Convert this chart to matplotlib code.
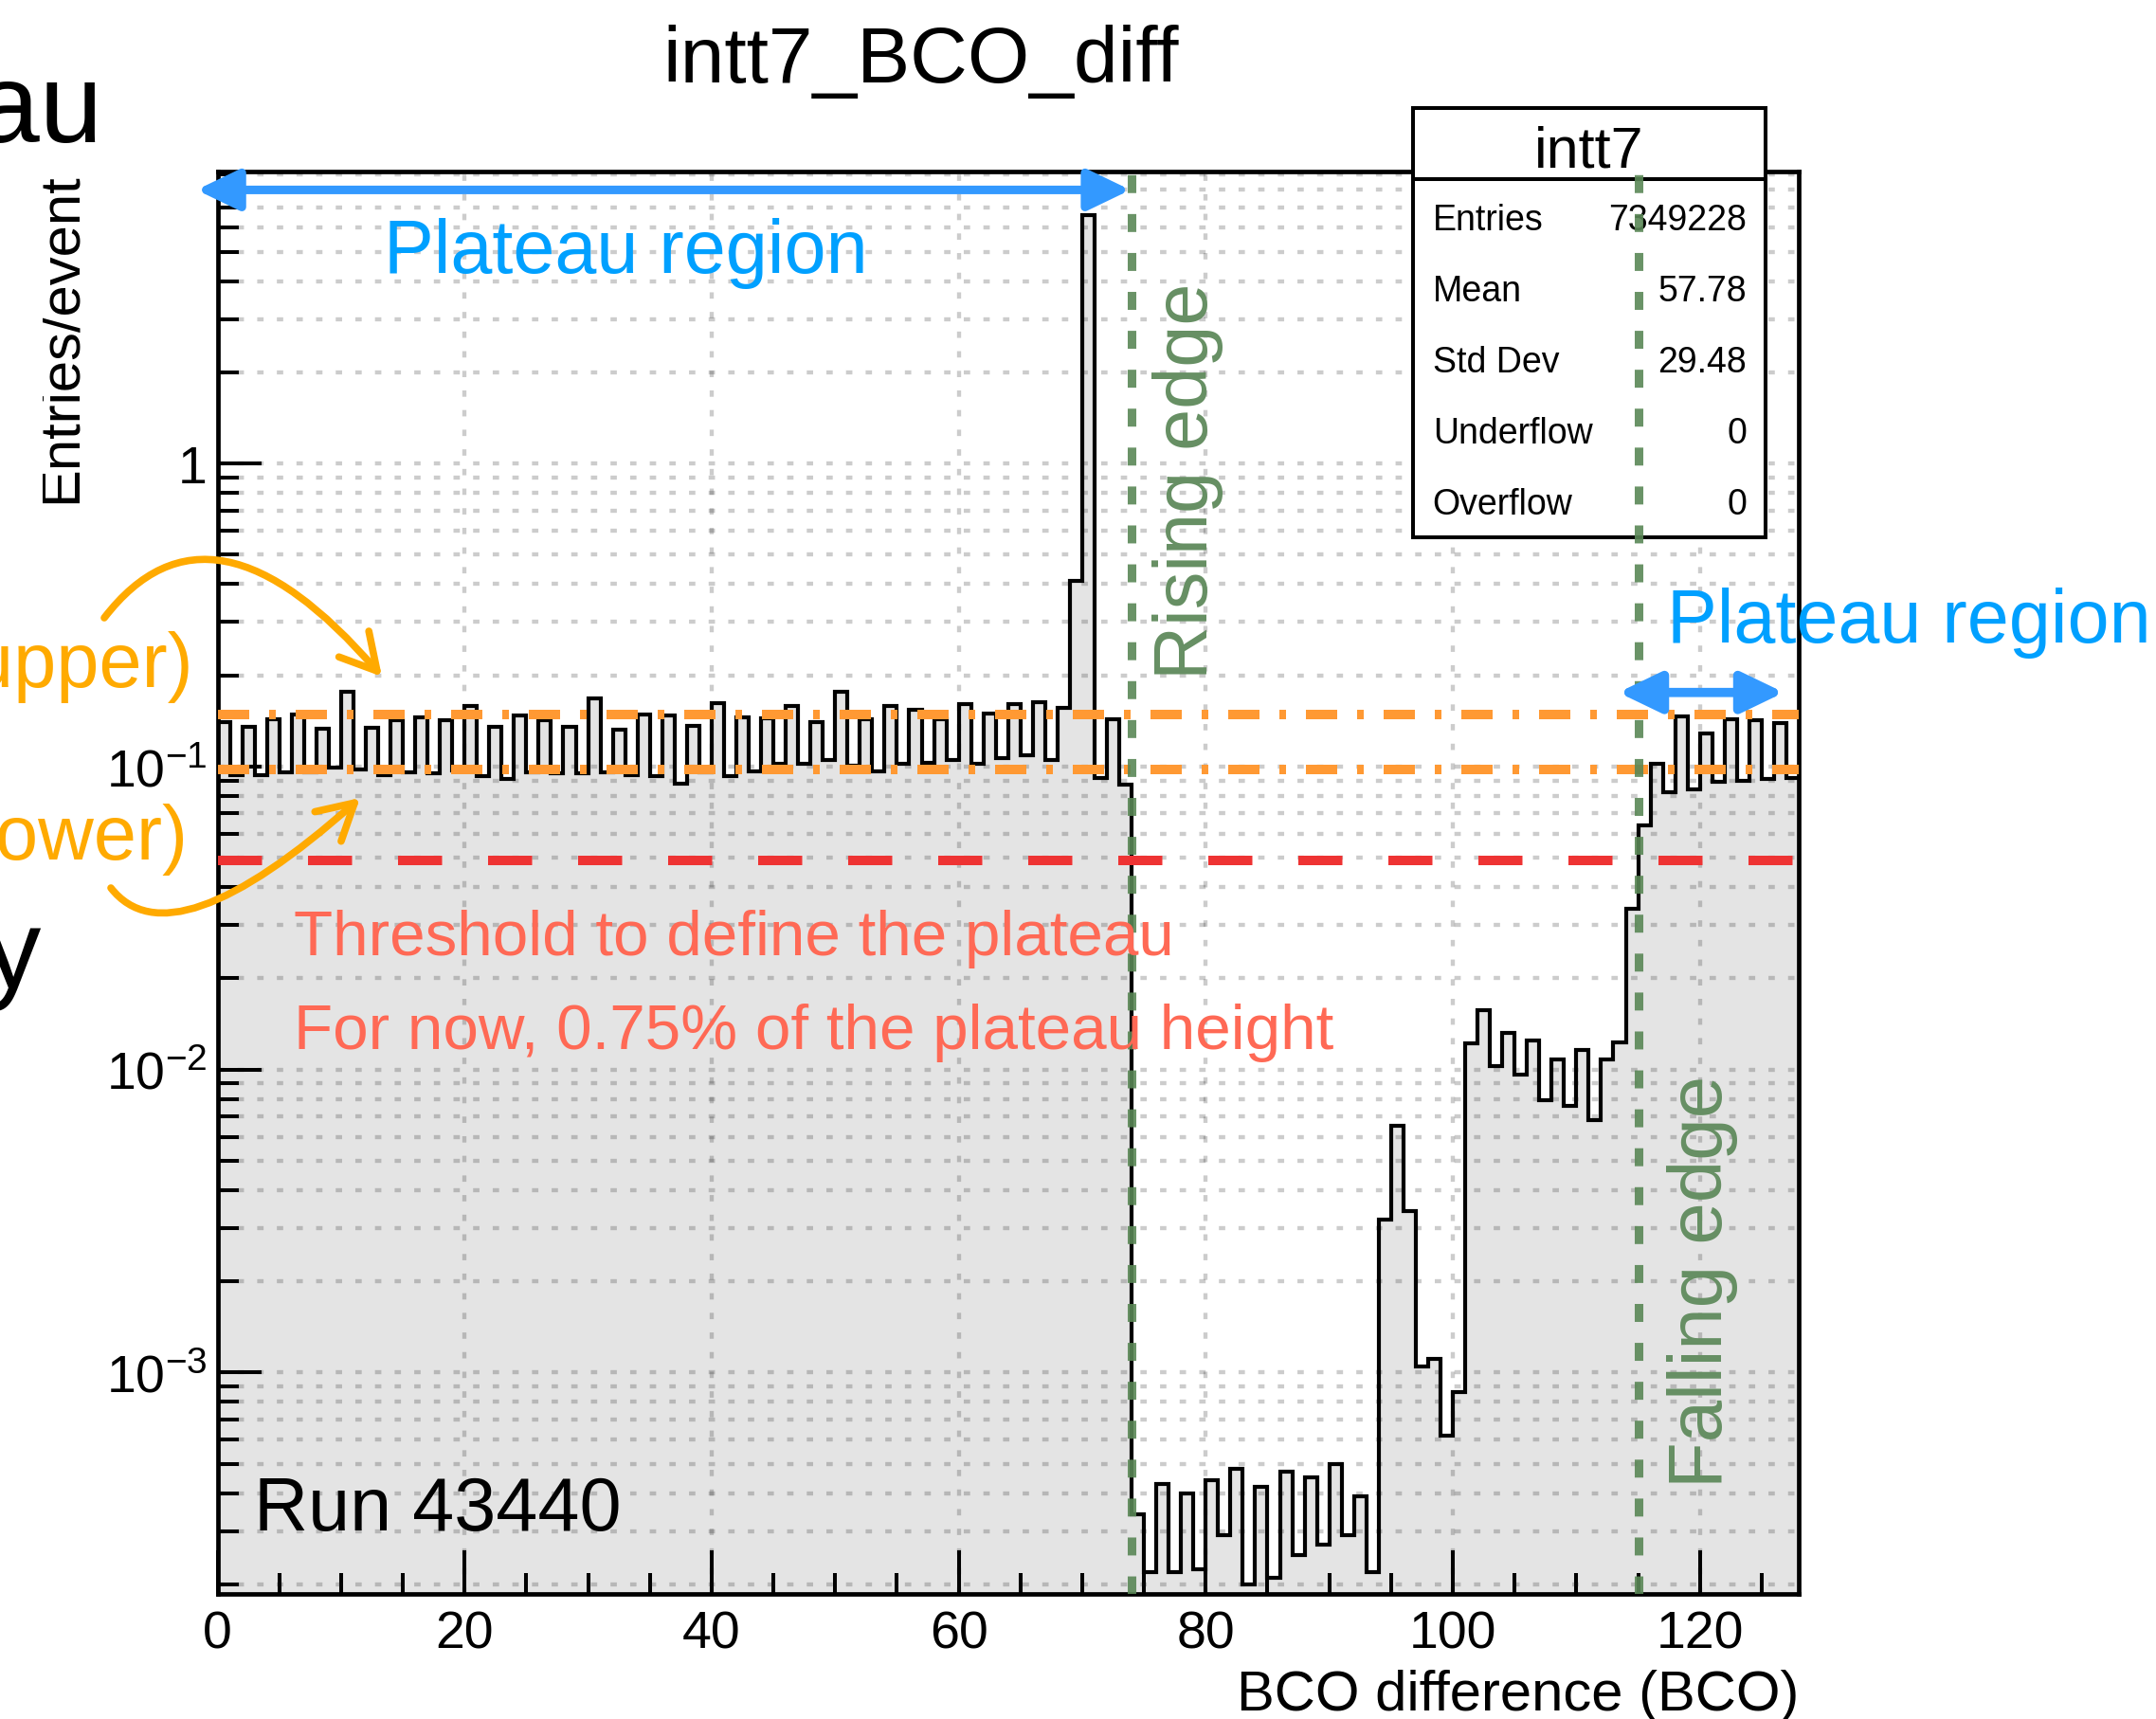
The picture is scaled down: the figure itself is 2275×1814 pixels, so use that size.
import numpy as np
import matplotlib
matplotlib.use("Agg")
import matplotlib.pyplot as plt
from matplotlib.patches import FancyArrowPatch, Rectangle, ArrowStyle
from matplotlib.path import Path
from matplotlib.lines import Line2D
from matplotlib.transforms import Affine2D
from matplotlib.ticker import FixedLocator, MultipleLocator, LogLocator, NullFormatter

plt.rcParams['font.family'] = ['Liberation Sans', 'DejaVu Sans']
plt.rcParams['mathtext.fontset'] = 'custom'
plt.rcParams['mathtext.rm'] = 'Liberation Sans'
plt.rcParams['mathtext.it'] = 'Liberation Sans:italic'
plt.rcParams['mathtext.bf'] = 'Liberation Sans:bold'

# ---------------- data ----------------
hist_name = "intt7_BCO_diff"
run_label = "Run 43440"
bin_edges = np.arange(0, 129)          # 128 bins, BCO 0..128
entries_per_event = [
    0.140, 0.094, 0.135, 0.094, 0.143, 0.096, 0.148, 0.096, 0.133, 0.099,
    0.176, 0.098, 0.134, 0.094, 0.142, 0.096, 0.145, 0.095, 0.142, 0.097,
    0.159, 0.093, 0.135, 0.091, 0.147, 0.096, 0.142, 0.095, 0.135, 0.095,
    0.168, 0.096, 0.132, 0.094, 0.148, 0.093, 0.147, 0.088, 0.136, 0.096,
    0.162, 0.093, 0.145, 0.0965, 0.144, 0.102, 0.158, 0.102, 0.140, 0.105,
    0.176, 0.101, 0.143, 0.0965, 0.158, 0.102, 0.154, 0.103, 0.143, 0.105,
    0.161, 0.102, 0.150, 0.107, 0.161, 0.109, 0.163, 0.105, 0.156, 0.41,
    6.6, 0.092, 0.143, 0.087, 3.4e-4, 2.2e-4, 4.3e-4, 2.2e-4, 4.0e-4, 2.25e-4,
    4.4e-4, 2.9e-4, 4.8e-4, 2.0e-4, 4.2e-4, 2.1e-4, 4.7e-4, 2.5e-4, 4.5e-4, 2.7e-4,
    5.0e-4, 2.9e-4, 3.9e-4, 2.2e-4, 3.2e-3, 6.5e-3, 3.4e-3, 1.05e-3, 1.11e-3, 6.2e-4,
    8.6e-4, 0.0122, 0.0157, 0.0103, 0.0132, 0.0096, 0.0125, 0.0079, 0.0108, 0.0076,
    0.0116, 0.0068, 0.0108, 0.0123, 0.034, 0.064, 0.102, 0.082, 0.146, 0.084,
    0.129, 0.089, 0.143, 0.090, 0.1425, 0.091, 0.139, 0.092,
]
plateau_upper = 0.148
plateau_lower = 0.098
threshold = 0.049
rising_edge = 74
falling_edge = 115
x_ticks = [0, 20, 40, 60, 80, 100, 120]
y_ticks = [1e-3, 1e-2, 1e-1, 1.0]
y_tick_labels = [r'$10^{-3}$', r'$10^{-2}$', r'$10^{-1}$', '1']
stats_title = "intt7"
stats_labels = ["Entries", "Mean", "Std Dev", "Underflow", "Overflow"]
stats_values = ["7349228", "57.78", "29.48", "0", "0"]
plateau_left = (-1.7, 73.9, 8.0)       # x0, x1, y of left plateau arrow
plateau_right = (113.4, 126.8, 0.1756)

# ---------------- figure ----------------
W, H = 2275, 1815
fig = plt.figure(figsize=(W / 100, H / 100), dpi=100)
fig.patch.set_facecolor('white')
pix = Affine2D().scale(1.0 / W, -1.0 / H).translate(0, 1) + fig.transFigure

L, R, T, B = 229.5, 1898, 182, 1683
ax = fig.add_axes([L / W, 1 - B / H, (R - L) / W, (B - T) / H])
ax.set_yscale('log')
ax.set_xlim(0, 128)
ax.set_ylim(1.86e-4, 9.2)
ax.set_axisbelow('line')

vals = np.array(entries_per_event)
ax.stairs(vals, bin_edges, baseline=1e-7, fill=True, color='#E4E4E4', lw=0, zorder=1)
ax.stairs(vals, bin_edges, baseline=None, color='black', lw=3.0, zorder=2)

# ticks
ax.xaxis.set_major_locator(FixedLocator(x_ticks))
ax.xaxis.set_minor_locator(MultipleLocator(5))
ax.set_yticks(y_ticks)
ax.set_yticklabels(y_tick_labels)
ax.yaxis.set_minor_locator(LogLocator(base=10, subs=np.arange(2, 10), numticks=100))
ax.yaxis.set_minor_formatter(NullFormatter())
ax.tick_params(which='both', direction='in', top=False, right=False, width=2.9,
               colors='black', labelsize=40)
ax.tick_params(which='major', length=33)
ax.tick_params(which='minor', length=16)
ax.tick_params(axis='x', pad=12)
ax.tick_params(axis='y', pad=8)
for s in ax.spines.values():
    s.set_linewidth(3.4)

# grid
gkw = dict(color='#1a1a1a', alpha=0.22, lw=3.1, linestyle=(0, (1.56, 3.25)))
ax.yaxis.grid(True, which='both', **gkw)
ax.xaxis.grid(True, which='major', **gkw)
ax.xaxis.grid(False, which='minor')

# reference lines
ax.axhline(plateau_upper, color='#FF9933', lw=7.2,
           linestyle=(0, (3.3, 2.1, 0.7, 2.1)), dash_capstyle='butt', zorder=3)
ax.axhline(plateau_lower, color='#FF9933', lw=7.2,
           linestyle=(0, (3.3, 2.1, 0.7, 2.1)), dash_capstyle='butt', zorder=3)
ax.axhline(threshold, color='#EE3333', lw=7.2,
           linestyle=(0, (4.65, 4.85)), dash_capstyle='butt', zorder=3)
for xe in (rising_edge, falling_edge):
    ax.axvline(xe, color='#5A8756', alpha=0.9, lw=6.5,
               linestyle=(0, (2.1, 2.45)), dash_capstyle='butt', zorder=8)

# blue plateau arrows
for (x0, x1, yv), lw in ((plateau_left, 6.5), (plateau_right, 7.0)):
    arr = FancyArrowPatch((x0, yv), (x1, yv), transform=ax.transData,
                          arrowstyle=ArrowStyle('<|-|>', head_length=27, head_width=13),
                          mutation_scale=1, lw=lw, color='#3399FF',
                          shrinkA=0, shrinkB=0, clip_on=False, zorder=9)
    ax.add_patch(arr)

# stats box
ax.add_patch(Rectangle((1490.7, 115), 372.6, 453, transform=pix, facecolor='white',
                       edgecolor='black', lw=2.9, clip_on=False, zorder=6))
ax.add_line(Line2D([1490.7, 1863.3], [190, 190], transform=pix, color='black',
                   lw=2.9, clip_on=False, zorder=6.5))
ax.text(1677, 176.7, stats_title, transform=pix, ha='center', va='baseline',
        fontsize=44, zorder=7, clip_on=False)
for i, (lab, val) in enumerate(zip(stats_labels, stats_values)):
    yb = 243.3 + 75 * i
    ax.text(1511.7, yb, lab, transform=pix, ha='left', va='baseline', fontsize=27,
            zorder=7, clip_on=False)
    ax.text(1843.3, yb, val, transform=pix, ha='right', va='baseline', fontsize=27,
            zorder=7, clip_on=False)


def ptext(x, y, s, **kw):
    return fig.text(x / W, 1 - y / H, s, **kw)


# titles / labels
ptext(972, 87, hist_name, ha='center', va='baseline', fontsize=60.5)
ptext(1898, 1805, "BCO difference (BCO)", ha='right', va='baseline', fontsize=43)
ptext(80, 182, "Entries/event", rotation=90, rotation_mode='anchor',
      ha='right', va='baseline', fontsize=43)
# white mask cutting the y title (as in the source slide)
fig.add_artist(Rectangle((0, 172), 45, 370, transform=pix, facecolor='white',
                         edgecolor='none', zorder=5))

# slide fragments at left edge
ptext(108, 150, "Plateau", ha='right', va='baseline', fontsize=86)
ptext(44, 1042, "Efficiency", ha='right', va='baseline', fontsize=86)
ptext(204, 725, "(upper)", ha='right', va='baseline', fontsize=58.5, color='#FFAA00')
ptext(198, 907, "(lower)", ha='right', va='baseline', fontsize=58.5, color='#FFAA00')

# annotations
ptext(405, 288, "Plateau region", ha='left', va='baseline', fontsize=57, color='#00A0FF')
ptext(1759, 678, "Plateau region", ha='left', va='baseline', fontsize=57, color='#00A0FF')
ptext(1274, 717, "Rising edge", rotation=90, rotation_mode='anchor', ha='left',
      va='baseline', fontsize=57, color='#668F63')
ptext(1817, 1570, "Falling edge", rotation=90, rotation_mode='anchor', ha='left',
      va='baseline', fontsize=57.5, color='#668F63')
ptext(310, 1008, "Threshold to define the plateau", ha='left', va='baseline',
      fontsize=48.5, color='#FF6955')
ptext(310, 1107, "For now, 0.75% of the plateau height", ha='left', va='baseline',
      fontsize=48.5, color='#FF6955')
ptext(268, 1615, run_label, ha='left', va='baseline', fontsize=57)

# amber curved arrows
for A, C, Bp in (((110, 653), (223, 506), (403, 715)),
                 ((117, 938), (181, 1020), (380, 843))):
    p = Path([A, C, Bp], [Path.MOVETO, Path.CURVE3, Path.CURVE3])
    fa = FancyArrowPatch(path=p, transform=pix,
                         arrowstyle=ArrowStyle('->', head_length=27, head_width=15),
                         mutation_scale=1, lw=5.5, color='#FFAA00', zorder=6)
    fig.add_artist(fa)

fig.savefig("out.png", dpi=100, facecolor='white')
